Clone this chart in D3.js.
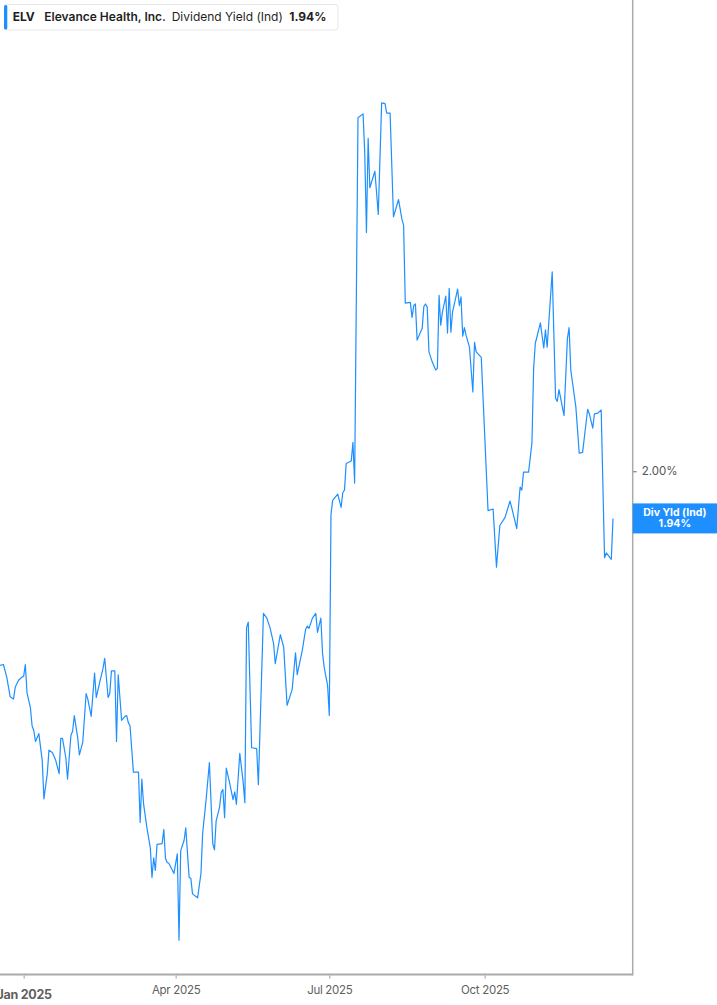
<!DOCTYPE html>
<html>
<head>
<meta charset="utf-8">
<script src="https://cdn.jsdelivr.net/npm/d3@7"></script>
<style>
  html, body { margin: 0; padding: 0; background: #fff; }
  svg { display: block; font-family: Inter, "Noto Sans", sans-serif; }
</style>
</head>
<body>
<div id="chart"></div>
<script>
// ELV dividend yield (indicated), %
var dates = [
  "2024-12-18","2024-12-20","2024-12-22","2024-12-24","2024-12-26","2024-12-27","2024-12-29","2024-12-31",
  "2025-01-01","2025-01-02","2025-01-03","2025-01-05","2025-01-06","2025-01-07","2025-01-08","2025-01-10",
  "2025-01-12","2025-01-13","2025-01-15","2025-01-16","2025-01-18","2025-01-20","2025-01-22","2025-01-23",
  "2025-01-24","2025-01-26","2025-01-27","2025-01-29","2025-01-30","2025-01-31","2025-02-02","2025-02-03",
  "2025-02-05","2025-02-07","2025-02-08","2025-02-10","2025-02-12","2025-02-13","2025-02-15","2025-02-17",
  "2025-02-18","2025-02-20","2025-02-21","2025-02-22","2025-02-24","2025-02-25","2025-02-26","2025-02-28",
  "2025-03-02","2025-03-03","2025-03-04","2025-03-05","2025-03-07","2025-03-10","2025-03-11","2025-03-12",
  "2025-03-13","2025-03-15","2025-03-17","2025-03-18","2025-03-19","2025-03-20","2025-03-21","2025-03-24",
  "2025-03-25","2025-03-26","2025-03-27","2025-03-28","2025-03-31","2025-04-02","2025-04-03","2025-04-04",
  "2025-04-06","2025-04-07","2025-04-09","2025-04-10","2025-04-11","2025-04-14","2025-04-16","2025-04-17",
  "2025-04-19","2025-04-21","2025-04-23","2025-04-24","2025-04-25","2025-04-27","2025-04-28","2025-04-29",
  "2025-04-30","2025-05-01","2025-05-03","2025-05-05","2025-05-06","2025-05-07","2025-05-09","2025-05-11",
  "2025-05-12","2025-05-13","2025-05-14","2025-05-16","2025-05-19","2025-05-20","2025-05-23","2025-05-25",
  "2025-05-27","2025-05-29","2025-05-30","2025-06-02","2025-06-04","2025-06-06","2025-06-09","2025-06-11",
  "2025-06-12","2025-06-15","2025-06-17","2025-06-18","2025-06-19","2025-06-21","2025-06-23","2025-06-24",
  "2025-06-26","2025-06-27","2025-06-28","2025-06-30","2025-07-01","2025-07-02","2025-07-03","2025-07-06",
  "2025-07-08","2025-07-09","2025-07-10","2025-07-11","2025-07-14","2025-07-15","2025-07-16","2025-07-18",
  "2025-07-21","2025-07-22","2025-07-23","2025-07-24","2025-07-25","2025-07-28","2025-07-30","2025-08-01",
  "2025-08-03","2025-08-04","2025-08-06","2025-08-08","2025-08-11","2025-08-13","2025-08-14","2025-08-15",
  "2025-08-18","2025-08-19","2025-08-20","2025-08-21","2025-08-22","2025-08-25","2025-08-26","2025-08-27",
  "2025-08-28","2025-08-29","2025-08-31","2025-09-02","2025-09-03","2025-09-04","2025-09-05","2025-09-06",
  "2025-09-08","2025-09-09","2025-09-10","2025-09-11","2025-09-12","2025-09-15","2025-09-16","2025-09-17",
  "2025-09-18","2025-09-19","2025-09-20","2025-09-22","2025-09-24","2025-09-25","2025-09-26","2025-09-29",
  "2025-10-03","2025-10-06","2025-10-08","2025-10-10","2025-10-13","2025-10-16","2025-10-17","2025-10-20",
  "2025-10-22","2025-10-23","2025-10-24","2025-10-27","2025-10-29","2025-10-30","2025-10-31","2025-11-03",
  "2025-11-05","2025-11-06","2025-11-07","2025-11-10","2025-11-12","2025-11-13","2025-11-14","2025-11-15",
  "2025-11-17","2025-11-19","2025-11-20","2025-11-21","2025-11-24","2025-11-26","2025-11-28","2025-12-01",
  "2025-12-02","2025-12-04","2025-12-05","2025-12-07","2025-12-09","2025-12-11","2025-12-12","2025-12-15",
  "2025-12-16"
];
var yields = [
  1.753,1.754,1.738,1.713,1.710,1.725,1.734,1.738,
  1.739,1.754,1.718,1.699,1.676,1.670,1.656,1.666,
  1.632,1.583,1.615,1.645,1.642,1.632,1.615,1.660,
  1.660,1.635,1.608,1.664,1.669,1.689,1.661,1.639,
  1.655,1.717,1.710,1.688,1.743,1.712,1.731,1.749,
  1.762,1.712,1.717,1.746,1.746,1.656,1.741,1.683,
  1.688,1.689,1.680,1.676,1.617,1.617,1.553,1.608,
  1.577,1.546,1.521,1.483,1.508,1.492,1.525,1.526,
  1.544,1.507,1.502,1.501,1.488,1.513,1.403,1.517,
  1.530,1.546,1.483,1.482,1.462,1.457,1.488,1.539,
  1.581,1.629,1.526,1.518,1.555,1.572,1.591,1.595,
  1.559,1.622,1.603,1.582,1.592,1.576,1.641,1.604,
  1.578,1.801,1.808,1.648,1.647,1.601,1.819,1.813,
  1.800,1.781,1.755,1.792,1.776,1.702,1.722,1.769,
  1.741,1.772,1.799,1.803,1.800,1.813,1.819,1.795,
  1.813,1.768,1.750,1.727,1.689,1.945,1.963,1.971,
  1.954,1.973,1.976,2.010,2.013,2.037,1.985,2.450,
  2.455,2.405,2.304,2.424,2.361,2.382,2.327,2.469,
  2.468,2.456,2.456,2.324,2.346,2.321,2.313,2.214,
  2.215,2.196,2.211,2.213,2.167,2.182,2.210,2.213,
  2.209,2.152,2.139,2.129,2.131,2.224,2.186,2.203,
  2.223,2.176,2.233,2.177,2.203,2.232,2.211,2.222,
  2.172,2.183,2.173,2.158,2.101,2.164,2.152,2.145,
  1.950,1.952,1.878,1.931,1.941,1.962,1.954,1.927,
  1.980,1.976,1.999,1.999,2.036,2.131,2.163,2.189,
  2.157,2.180,2.158,2.254,2.093,2.089,2.104,2.093,
  2.071,2.169,2.183,2.129,2.082,2.023,2.024,2.079,
  2.073,2.055,2.073,2.074,2.078,1.890,1.896,1.888,
  1.940
];
var xTickDates = ["2025-01-01", "2025-04-01", "2025-07-01", "2025-10-01"];
var xTickLabels = ["Jan 2025", "Apr 2025", "Jul 2025", "Oct 2025"];
var yTicks = [2.0];
var ticker = "ELV";
var company = "Elevance Health, Inc.";
var metric = "Dividend Yield (Ind)";
var lastLabel = "1.94%";

var W = 717, H = 1005;
var plotRight = 632.7, plotBottom = 974.5;
var blue = "#1e8fff";
var parse = d3.timeParse("%Y-%m-%d");

var data = dates.map(function (d, i) { return { date: parse(d), value: yields[i] }; });

var x = d3.scaleTime()
    .domain([parse("2024-12-18"), parse("2025-12-16")])
    .range([0, 613]);
var y = d3.scaleLinear()
    .domain([1.36, 2.60])
    .range([974, 0]);

var svg = d3.select("#chart").append("svg")
    .attr("width", W)
    .attr("height", H);

// series line
var line = d3.line()
    .x(function (d) { return x(d.date); })
    .y(function (d) { return y(d.value); });

svg.append("path")
    .datum(data)
    .attr("fill", "none")
    .attr("stroke", blue)
    .attr("stroke-width", 1.2)
    .attr("stroke-linejoin", "round")
    .attr("d", line);

// bottom axis
var xAxis = d3.axisBottom(x)
    .tickValues(xTickDates.map(parse))
    .tickSize(4)
    .tickFormat(function (d, i) { return xTickLabels[i]; });

var gx = svg.append("g")
    .attr("transform", "translate(0," + plotBottom + ")")
    .call(xAxis);
gx.select(".domain").remove();
gx.append("line")
    .attr("x1", 0).attr("x2", plotRight)
    .attr("stroke", "#aaaaaa").attr("stroke-width", 2);
gx.selectAll(".tick line").attr("stroke", "#999").attr("y1", 1);
gx.selectAll(".tick text")
    .attr("y", 11)
    .attr("fill", "#5f5f5f")
    .attr("font-family", "Inter, sans-serif")
    .attr("letter-spacing", -0.3)
    .attr("font-weight", function (d, i) { return i === 0 ? 700 : 400; })
    .attr("dy", function (d, i) { return i === 0 ? "1.05em" : "0.71em"; })
    .style("font-size", function (d, i) { return i === 0 ? "12.5px" : "11.5px"; });

// right axis
var yAxis = d3.axisRight(y)
    .tickValues(yTicks)
    .tickSize(4)
    .tickPadding(5)
    .tickFormat(function (d) { return d3.format(".2f")(d) + "%"; });

var gy = svg.append("g")
    .attr("transform", "translate(" + plotRight + ",0)")
    .call(yAxis);
gy.select(".domain").remove();
gy.append("line")
    .attr("y1", 0).attr("y2", plotBottom + 1)
    .attr("stroke", "#aaaaaa").attr("stroke-width", 1.5);
gy.selectAll(".tick line").attr("stroke", "#666");
gy.selectAll(".tick text")
    .attr("fill", "#555")
    .attr("font-family", "Inter, sans-serif")
    .attr("font-size", 11.5);

// last value flag
var last = data[data.length - 1];
var ly = y(last.value);
var flag = svg.append("g").attr("transform", "translate(" + plotRight + "," + ly + ")");
flag.append("rect")
    .attr("x", 0).attr("y", -15)
    .attr("width", W - plotRight).attr("height", 30)
    .attr("fill", blue);
flag.append("text")
    .attr("x", (W - plotRight) / 2).attr("y", -2.5)
    .attr("text-anchor", "middle")
    .attr("fill", "#fff").attr("font-weight", 700).attr("font-size", 10.5)
    .text("Div Yld (Ind)");
flag.append("text")
    .attr("x", (W - plotRight) / 2).attr("y", 9)
    .attr("text-anchor", "middle")
    .attr("fill", "#fff").attr("font-weight", 700).attr("font-size", 10.5)
    .text(lastLabel);

// legend header
var lg = svg.append("g");
lg.append("rect")
    .attr("x", 4.5).attr("y", 4.5)
    .attr("width", 333.5).attr("height", 25.5)
    .attr("rx", 3)
    .attr("fill", "#fff")
    .attr("stroke", "#e6e6e6");
lg.append("rect")
    .attr("x", 4).attr("y", 5)
    .attr("width", 3.3).attr("height", 24.5)
    .attr("rx", 1.5)
    .attr("fill", blue);
var legendItems = [
  { text: ticker, x: 12.7, weight: 700 },
  { text: company, x: 44.3, weight: 600 },
  { text: metric, x: 171.7, weight: 400 },
  { text: lastLabel, x: 289.3, weight: 700 }
];
lg.selectAll("text.item")
    .data(legendItems)
    .enter().append("text")
    .attr("class", "item")
    .attr("x", function (d) { return d.x; })
    .attr("y", 21)
    .attr("fill", "#1f1f1f")
    .attr("font-size", 12)
    .attr("font-weight", function (d) { return d.weight; })
    .text(function (d) { return d.text; });
</script>
</body>
</html>
